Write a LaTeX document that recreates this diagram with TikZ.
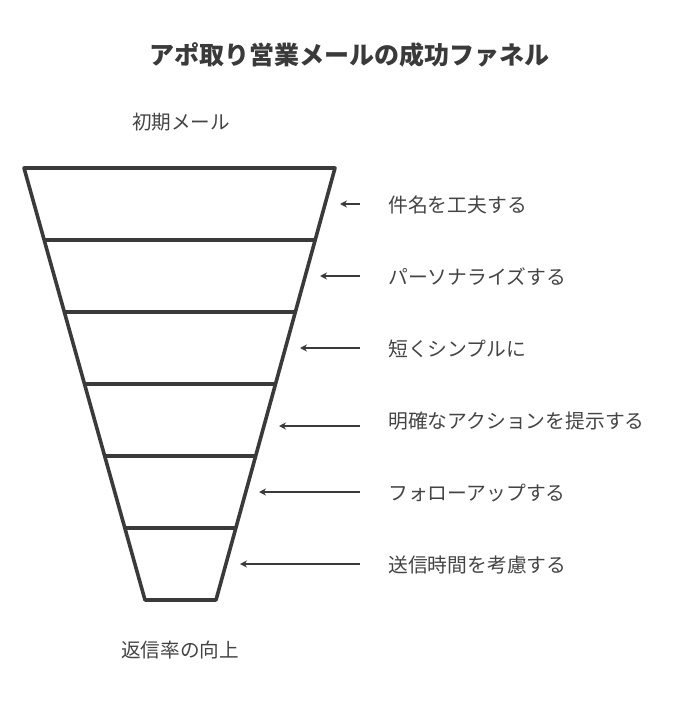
\documentclass[tikz,border=0pt]{standalone}
\usepackage{fontspec}
\setmainfont{Noto Sans CJK JP}
\usepackage{tikz}
\usetikzlibrary{calc,arrows.meta}
\definecolor{ink}{HTML}{3A3A3A}
\definecolor{txt}{HTML}{444444}

\begin{document}
\begin{tikzpicture}[x=1pt,y=-1pt,>={Stealth[length=7pt,width=7pt]},
                    funnel/.style={draw=ink,line width=3.6pt,line join=round},
                    step arrow/.style={->,draw=ink,line width=1.6pt},
                    label node/.style={anchor=west,inner sep=0pt,text=txt,font=\fontsize{19.8}{22}\selectfont},
                    end node/.style={inner sep=0pt,text=txt,font=\fontsize{19.6}{22}\selectfont}]
    \useasboundingbox (0,0) rectangle (673,708);

    % Nodes
    \node[inner sep=0pt,text=ink,font=\fontsize{25}{28}\selectfont\bfseries] (title) at (349,55) {アポ取り営業メールの成功ファネル};
    \node[end node] (start) at (181,122) {初期メール};
    \node[end node] (goal) at (180,650) {返信率の向上};

    \node[label node] (l1) at (388,205) {件名を工夫する};
    \node[label node] (l2) at (388,277) {パーソナライズする};
    \node[label node] (l3) at (388,349) {短くシンプルに};
    \node[label node] (l4) at (388,421) {明確なアクションを提示する};
    \node[label node] (l5) at (388,493) {フォローアップする};
    \node[label node] (l6) at (388,565) {送信時間を考慮する};

    % Funnel
    \coordinate (tl) at (24,168);
    \coordinate (tr) at (335,168);
    \coordinate (bl) at (145,600);
    \coordinate (br) at (216,600);
    \draw[funnel] (tl) -- (tr) -- (br) -- (bl) -- cycle;
    \foreach \i in {1,...,5}
      \draw[funnel] ($(tl)!\i/6!(bl)$) -- ($(tr)!\i/6!(br)$);

    % Paths
    \foreach \i/\y/\x in {1/204/340,2/276/320,3/348/300,4/426/279,5/492/259,6/564/240} {
      \coordinate (s\i) at (360,\y);
      \coordinate (t\i) at (\x,\y);
      \draw[step arrow] (s\i) -- (t\i);
    }

\end{tikzpicture}
\end{document}
